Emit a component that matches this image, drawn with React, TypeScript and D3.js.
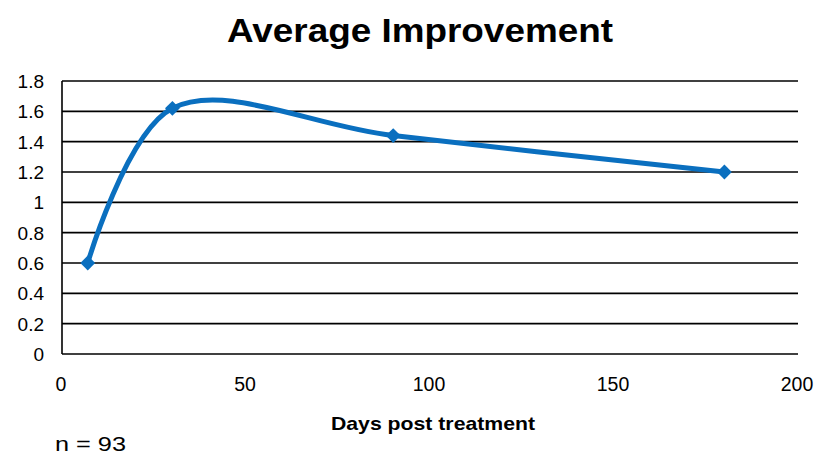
import * as d3 from "d3";

const days = [7, 30, 90, 180];
const improvement = [0.6, 1.62, 1.44, 1.2];
const yTicks = [0, 0.2, 0.4, 0.6, 0.8, 1, 1.2, 1.4, 1.6, 1.8];
const xTicks = [0, 50, 100, 150, 200];

const width = 815;
const height = 454;
const margin = { top: 81, right: 17, bottom: 100, left: 62 };
const innerWidth = width - margin.left - margin.right;
const innerHeight = height - margin.top - margin.bottom;

const blue = "#0a6fbf";
const font = '"Liberation Sans", Arial, Helvetica, sans-serif';

export default function App() {
  const x = d3.scaleLinear().domain([0, 200]).range([0, innerWidth]);
  const y = d3.scaleLinear().domain([0, 1.8]).range([innerHeight, 0]);

  const points: [number, number][] = days.map((d, i) => [x(d), y(improvement[i])]);
  // Excel-style smoothed line
  const line = d3.line().curve(d3.curveCatmullRom.alpha(0.5))(points) ?? "";
  const diamond = d3.symbol().type(d3.symbolDiamond2).size(140)() ?? "";

  return (
    <svg
      width={width}
      height={height}
      fontFamily={font}
      style={{ position: "absolute", left: 0, top: 0 }}
    >
      <text
        x={227}
        y={42}
        fontSize={33.5}
        fontWeight={700}
        textLength={386}
        lengthAdjust="spacingAndGlyphs"
      >
        Average Improvement
      </text>
      <g transform={`translate(${margin.left},${margin.top})`}>
        {yTicks.map((t) => (
          <g key={t}>
            <line x1={0} x2={innerWidth} y1={y(t)} y2={y(t)} stroke="#000" strokeWidth={1.6} />
            <text x={-18} y={y(t)} dy="0.36em" textAnchor="end" fontSize={19}>
              {t}
            </text>
          </g>
        ))}
        <line x1={0} x2={0} y1={0} y2={innerHeight} stroke="#000" strokeWidth={1.6} />
        {xTicks.map((t) => (
          <text key={t} x={x(t) - 1} y={innerHeight + 37} textAnchor="middle" fontSize={19.5}>
            {t}
          </text>
        ))}
        <path d={line} fill="none" stroke={blue} strokeWidth={5} />
        {points.map(([px, py], i) => (
          <path key={i} d={diamond} transform={`translate(${px},${py})`} fill={blue} />
        ))}
      </g>
      <text
        x={331}
        y={430}
        fontSize={19}
        fontWeight={700}
        textLength={204}
        lengthAdjust="spacingAndGlyphs"
      >
        Days post treatment
      </text>
      <text x={55} y={451} fontSize={21} textLength={71} lengthAdjust="spacingAndGlyphs">
        n = 93
      </text>
    </svg>
  );
}
